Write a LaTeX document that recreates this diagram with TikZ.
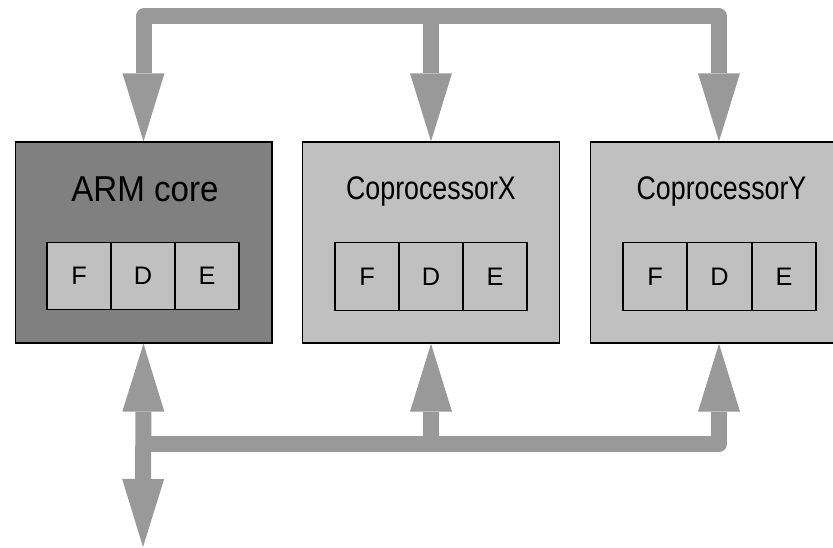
\documentclass[tikz,border=0pt]{standalone}
\usepackage{fontspec}
\setmainfont{Liberation Sans}
\newfontfamily\armfont[FakeStretch=0.92]{Liberation Sans}
\newfontfamily\cpfont[FakeStretch=0.82]{Liberation Sans}
\usetikzlibrary{arrows.meta}

\definecolor{busgray}{HTML}{999999}
\definecolor{coregray}{HTML}{808080}
\definecolor{lightgray}{HTML}{C0C0C0}

\tikzset{unit/.style = {shape = rectangle,
                                    draw = black,
                                    line width = 1pt,
                                    inner sep = 0pt,
                                    minimum width = 192.5pt,
                                    minimum height = 150.75pt},
         stage/.style = {shape = rectangle,
                                    draw = black,
                                    line width = 0.8pt,
                                    inner sep = 0pt,
                                    minimum width = 48pt,
                                    minimum height = 50.5pt,
                                    font = \fontsize{19}{19}\selectfont},
         bus/.style = {draw = busgray,
                                    line width = 12pt,
                                    line join = round},
         tip/.tip = {Triangle[width = 31.5pt, length = 51pt, line width = 0pt]}}

\begin{document}
\begin{tikzpicture}[x=0.75pt, y=-0.75pt]
		\useasboundingbox (0,0) rectangle (833,548);
		% processing units
		\node[unit, fill = coregray] (arm) at (143.5,242.5) {};
		\node[unit, fill = lightgray] (cpx) at (431,242.5) {};
		\node[unit, fill = lightgray] (cpy) at (719,242.5) {};
		\node[anchor = base, font = \armfont\fontsize{27}{27}\selectfont] (armlabel) at (145,201.5) {ARM core};
		\node[anchor = base, font = \cpfont\fontsize{24.5}{24.5}\selectfont] (cpxlabel) at (431,200) {CoprocessorX};
		\node[anchor = base, font = \cpfont\fontsize{24.5}{24.5}\selectfont] (cpylabel) at (721.5,200) {CoprocessorY};
		% pipelines
		\node[stage, fill = lightgray] (armF) at (79,276) {F};
		\node[stage, fill = lightgray] (armD) at (143,276) {D};
		\node[stage, fill = lightgray] (armE) at (207,276) {E};
		\node[stage] (cpxF) at (367,276.5) {F};
		\node[stage] (cpxD) at (431,276.5) {D};
		\node[stage] (cpxE) at (495,276.5) {E};
		\node[stage] (cpyF) at (655,276.5) {F};
		\node[stage] (cpyD) at (719.5,276.5) {D};
		\node[stage] (cpyE) at (784,276.5) {E};
		% buses
		\coordinate (top) at (0,16.5);
		\coordinate (bot) at (0,444);
		\coordinate (out) at (143,547);
		\draw[bus, tip-tip] (arm.north) -- (arm.north |- top) -- (cpy.north |- top) -- (cpy.north);
		\draw[bus, -tip] (cpx.north |- top) -- (cpx.north);
		\draw[bus, tip-tip] (arm.south) -- (out);
		\draw[bus, -tip] (arm.south |- bot) -- (cpy.south |- bot) -- (cpy.south);
		\draw[bus, -tip] (cpx.south |- bot) -- (cpx.south);
	\end{tikzpicture}
\end{document}
